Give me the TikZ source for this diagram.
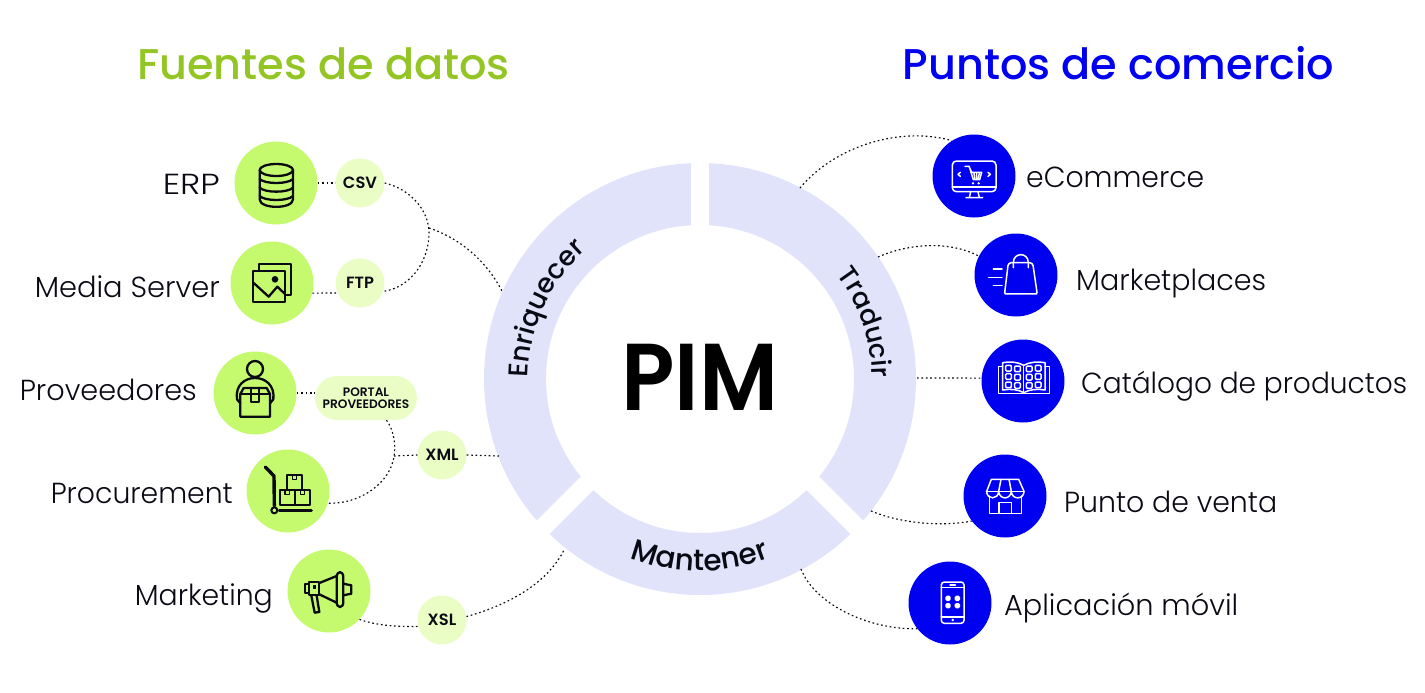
\documentclass[tikz,border=0pt]{standalone}
\usepackage{fontspec}
\usepackage{graphicx}
\usetikzlibrary{decorations.text}
\setmainfont{Poppins}
\newfontfamily\labelfont{Poppins Light}
\newfontfamily\headfont{Poppins Medium}
\newfontfamily\strongfont{Poppins SemiBold}
\definecolor{lime}{HTML}{C6FA6E}
\definecolor{palelime}{HTML}{E9FDC4}
\definecolor{ringc}{HTML}{E1E3FA}
\definecolor{bluec}{HTML}{0000F0}
\definecolor{titlegreen}{HTML}{93C524}
\definecolor{inkc}{HTML}{0A0A14}
\newcommand{\fitw}[2]{\resizebox{#1pt}{\height}{#2}}
\tikzset{
  sourcedisc/.style={circle,fill=lime,minimum size=83pt,inner sep=0pt},
  targetdisc/.style={circle,fill=bluec,minimum size=83pt,inner sep=0pt},
  chip/.style={circle,fill=palelime,minimum size=49pt,inner sep=0pt,text=inkc,font=\strongfont\fontsize{16.3}{17}\selectfont},
  portalchip/.style={rectangle,rounded corners=22pt,fill=palelime,minimum width=102pt,minimum height=44pt,inner sep=0pt,align=center,text=inkc,font=\strongfont\fontsize{12.2}{12.2}\selectfont},
  itemlabel/.style={inner sep=0pt,text=inkc,font=\labelfont\fontsize{29}{30}\selectfont},
  titletext/.style={inner sep=0pt,font=\headfont\fontsize{43}{44}\selectfont},
  link/.style={line width=1.15pt,dash pattern=on 1.7pt off 2.7pt,draw=inkc},
  gapcut/.style={draw=white,line width=18.6pt},
  darkicon/.style={draw=inkc,line width=2.3pt,line join=round,line cap=round},
  lighticon/.style={draw=white,line width=1.5pt,line join=round,line cap=round},
  zoomed/.style={x=0.33333pt,y=-0.33333pt},
  ringword/.style 2 args={decorate,decoration={text along path,text align=center,text={|\headfont\fontsize{#1}{30}\selectfont\color{inkc}|#2}}}
}
\begin{document}
\begin{tikzpicture}[x=1pt,y=-1pt]
\useasboundingbox (0,0) rectangle (1425,693);
% ring
\fill[ringc,even odd rule] (700,379) circle[radius=216] (700,379) circle[radius=154];
\draw[gapcut] (700,150) -- (700,240);
\draw[gapcut] (600,470.5) -- (530,540.5);
\draw[gapcut] (800,470.5) -- (870,540.5);
\path[ringword={27}{Enriquecer}] ({700+172*cos(176)},{379+172*sin(176)}) arc[start angle=176,end angle=233,radius=172];
\path[ringword={26.5}{Traducir}] ({700+172*cos(320)},{379+172*sin(320)}) arc[start angle=320,end angle=362,radius=172];
\path[ringword={29.5}{Mantener}] ({700+192*cos(113)},{379+192*sin(113)}) arc[start angle=113,end angle=67,radius=192];
\node[inner sep=0pt,anchor=base,font=\strongfont\fontsize{95}{95}\selectfont] (pim) at (700,410) {\fitw{157}{PIM}};
% titles
\node[titletext,text=titlegreen,anchor=base] (fuentes) at (323.5,80) {Fuentes de datos};
\node[titletext,text=bluec,anchor=base] (puntos) at (1118.5,80) {Puntos de comercio};
% sources
\node[sourcedisc] (erp) at (276,183) {};
\node[sourcedisc] (media) at (272,283) {};
\node[sourcedisc] (prov) at (255,393) {};
\node[sourcedisc] (proc) at (288,491) {};
\node[sourcedisc] (mark) at (329,591) {};
\node[chip] (csv) at (360,183) {CSV};
\node[chip] (ftp) at (360,283) {FTP};
\node[chip] (xml) at (442,455) {XML};
\node[chip] (xsl) at (442,620) {XSL};
\node[portalchip] (portal) at (366,398) {PORTAL\\PROVEEDORES};
% targets
\node[targetdisc] (ecom) at (974,176) {};
\node[targetdisc] (mplace) at (1016,275) {};
\node[targetdisc] (cat) at (1023,381) {};
\node[targetdisc] (pos) at (1005,496) {};
\node[targetdisc] (app) at (950,603) {};
% labels
\node[itemlabel,anchor=base east] (lerp) at (220,194) {\fitw{57}{ERP}};
\node[itemlabel,anchor=base east] (lmedia) at (220,297) {\fitw{185}{Media Server}};
\node[itemlabel,anchor=base east] (lprov) at (197,400) {\fitw{177}{Proveedores}};
\node[itemlabel,anchor=base east] (lproc) at (233,503) {\fitw{182}{Procurement}};
\node[itemlabel,anchor=base east] (lmark) at (273,605) {\fitw{138}{Marketing}};
\node[itemlabel,anchor=base west] (lecom) at (1026,187) {\fitw{178}{eCommerce}};
\node[itemlabel,anchor=base west] (lmplace) at (1076,290) {\fitw{190}{Marketplaces}};
\node[itemlabel,anchor=base west] (lcat) at (1081,393) {\fitw{326}{Catálogo de productos}};
\node[itemlabel,anchor=base west] (lpos) at (1064,512) {\fitw{213}{Punto de venta}};
\node[itemlabel,anchor=base west] (lapp) at (1004,615) {\fitw{234}{Aplicación móvil}};
% connector ends
\coordinate (joinA) at (429,228);
\coordinate (ringA) at (503,293);
\coordinate (joinB) at (394,456);
\coordinate (ringB) at (499,456);
\coordinate (ringC) at (564.5,549);
\coordinate (ringD) at (800,188);
\coordinate (ringE) at (878,257);
\coordinate (ringF) at (917,378);
\coordinate (ringG) at (871,511);
\coordinate (ringH) at (801,569);
% connectors
\draw[link] (erp.east) -- (csv.west);
\draw[link] (media.-14) -- (ftp.-156);
\draw[link] (csv.east) .. controls (410,189) and (429,210) .. (429,233) .. controls (429,260) and (412,287) .. (ftp.-20);
\draw[link] (joinA) .. controls (462,239) and (488,263) .. (ringA);
\draw[link] (prov.east) -- (prov.east -| portal.west);
\draw[link] ([xshift=20.5pt]portal.south) .. controls (396,433) and (399,458) .. (386,476) .. controls (373,494) and (350,504) .. (proc.-17);
\draw[link] (joinB) -- (xml.west);
\draw[link] (xml.east) -- (ringB);
\draw[link] (mark.-43) .. controls (375,625) and (395,627) .. (xsl.-165);
\draw[link] (xsl.8) .. controls (505,606) and (547,585) .. (ringC);
\draw[link] (ringD) .. controls (835,146) and (900,126) .. (ecom.122);
\draw[link] (ringE) .. controls (910,243) and (950,241) .. (mplace.153);
\draw[link] (ringF) -- (cat.176);
\draw[link] (ringG) .. controls (900,523) and (940,527) .. (pos.-143);
\draw[link] (ringH) .. controls (815,605) and (870,630) .. (app.-142);
% icon: database
\begin{scope}[shift={(0,120)},zoomed]
\draw[darkicon] (829,150) ellipse[x radius=50,y radius=18];
\draw[darkicon] (779,150) -- (779,238) .. controls (779,268) and (879,268) .. (879,238) -- (879,150);
\foreach \yy in {177,203,228} \draw[darkicon] (779,\yy) .. controls (795,\yy+16) and (863,\yy+16) .. (879,\yy);
\end{scope}
% icon: images
\begin{scope}[shift={(0,120)},zoomed]
\draw[darkicon] (778,450) -- (778,433) -- (873,433) -- (873,525) -- (855,525);
\draw[darkicon] (760,452) -- (855,452) -- (855,545) -- (760,545) -- cycle;
\draw[darkicon] (760,488) -- (806,530) -- (832,500) -- (855,522);
\fill[inkc] (825,478) circle[radius=10];
\end{scope}
% icon: supplier
\begin{scope}[shift={(215,350)},zoomed]
\draw[darkicon] (120,57) circle[radius=24];
\draw[darkicon] (76,160) -- (66,148) .. controls (60,105) and (90,84) .. (120,84) .. controls (150,84) and (180,105) .. (175,148) -- (165,160);
\draw[darkicon] (76,132) -- (76,200) -- (165,200) -- (165,132) -- (155,114) -- (86,114) -- cycle;
\draw[darkicon] (76,132) -- (165,132);
\draw[darkicon] (108,114) -- (108,156) -- (132,156) -- (132,114);
\end{scope}
% icon: trolley
\begin{scope}[shift={(250,452)},zoomed]
\draw[inkc,line width=3.4pt,line cap=round,line join=round] (46,45) -- (72,72) -- (73,162);
\draw[inkc,line width=3.4pt,line cap=round] (88,175) -- (184,175);
\draw[darkicon,line width=2pt] (73,175) circle[radius=9];
\draw[darkicon,line width=1.9pt] (90,115) rectangle (135,158);
\draw[darkicon,line width=1.9pt] (135,115) rectangle (180,158);
\draw[darkicon,line width=1.9pt] (111,70) rectangle (157,115);
\draw[darkicon,line width=1.6pt] (105,115) -- (105,128) -- (118,128) -- (118,115);
\draw[darkicon,line width=1.6pt] (151,115) -- (151,128) -- (164,128) -- (164,115);
\draw[darkicon,line width=1.6pt] (127,70) -- (127,83) -- (140,83) -- (140,70);
\end{scope}
% icon: megaphone
\begin{scope}[shift={(290,552)},zoomed]
\draw[darkicon] (44,96) rectangle (58,124);
\draw[darkicon] (58,91) rectangle (88,129);
\draw[darkicon] (88,93) -- (140,72);
\draw[darkicon] (88,127) -- (140,152);
\draw[darkicon] (140,76) .. controls (140,55) and (160,55) .. (160,76) -- (160,150) .. controls (160,170) and (140,170) .. (140,150) -- cycle;
\draw[darkicon] (160,95) -- (184,100) -- (184,125) -- (160,130);
\draw[darkicon] (64,131) -- (74,182) -- (88,180) -- (80,131);
\fill[inkc] (68,100) rectangle (78,110);
\end{scope}
% icon: monitor and cart
\begin{scope}[shift={(940,145)},zoomed]
\draw[lighticon,rounded corners=4pt] (37,48) rectangle (168,140);
\draw[lighticon] (37,126) -- (168,126);
\draw[lighticon] (92,140) -- (88,158) (114,140) -- (118,158) (78,158) -- (128,158);
\draw[lighticon] (61,82) -- (54,88) -- (61,94) (144,82) -- (151,88) -- (144,94);
\draw[lighticon] (75,64) -- (87,64) -- (95,82) -- (125,82) -- (119,104) -- (100,104) -- (90,72);
\draw[lighticon] (102,84) -- (104,102) (110,84) -- (110,102) (118,84) -- (115,102);
\fill[white] (99,115) circle[radius=4] (116,115) circle[radius=4];
\end{scope}
% icon: bag
\begin{scope}[shift={(780,120)},zoomed]
\draw[lighticon,rounded corners=3pt] (685,428) -- (758,428) -- (770,510) .. controls (771,518) and (765,522) .. (760,522) -- (685,522) .. controls (680,522) and (674,518) .. (675,510) -- cycle;
\draw[lighticon] (700,443) -- (700,428) .. controls (700,396) and (745,396) .. (745,428) -- (745,443);
\draw[lighticon] (640,447) -- (666,447) (626,472) -- (666,472) (640,497) -- (666,497);
\end{scope}
% icon: catalogue
\begin{scope}[shift={(990,350)},zoomed]
\draw[lighticon] (38,50) -- (25,50) -- (25,130) -- (178,130) -- (178,50) -- (165,50);
\draw[lighticon] (38,120) -- (38,38) .. controls (60,34) and (85,36) .. (101,46) .. controls (118,36) and (143,34) .. (165,38) -- (165,120) .. controls (143,116) and (118,118) .. (101,128) .. controls (85,118) and (60,116) .. (38,120) -- cycle;
\draw[lighticon] (101,46) -- (101,128);
\foreach \xx/\yy in {47/46,74/48,47/71,74/73,47/96,74/98,109/48,136/46,109/73,136/71,109/98,136/96}
  \draw[lighticon,rounded corners=1pt] (\xx,\yy) rectangle ++(17,17);
\end{scope}
% icon: shop
\begin{scope}[shift={(780,420)},zoomed]
\draw[lighticon] (634,178) -- (716,178) -- (732,214) .. controls (732,240) and (695,240) .. (694,214) .. controls (692,240) and (658,240) .. (656,214) .. controls (655,240) and (620,240) .. (620,214) -- cycle;
\draw[lighticon] (620,214) -- (732,214);
\draw[lighticon] (656,214) -- (663,178) (694,214) -- (687,178);
\draw[lighticon] (628,228) -- (628,280) -- (724,280) -- (724,228);
\draw[lighticon] (657,280) -- (657,247) -- (695,247) -- (695,280);
\end{scope}
% icon: phone
\begin{scope}[shift={(780,420)},zoomed]
\draw[lighticon,rounded corners=3pt] (484,486) rectangle (552,610);
\draw[lighticon] (484,503) -- (552,503) (484,591) -- (552,591) (510,495) -- (526,495);
\fill[white] (518,600) circle[radius=4];
\foreach \xx/\yy in {496/527,524/527,496/549,524/549}
  \fill[white,rounded corners=1.5pt] (\xx,\yy) rectangle ++(16,16);
\end{scope}
\end{tikzpicture}
\end{document}
